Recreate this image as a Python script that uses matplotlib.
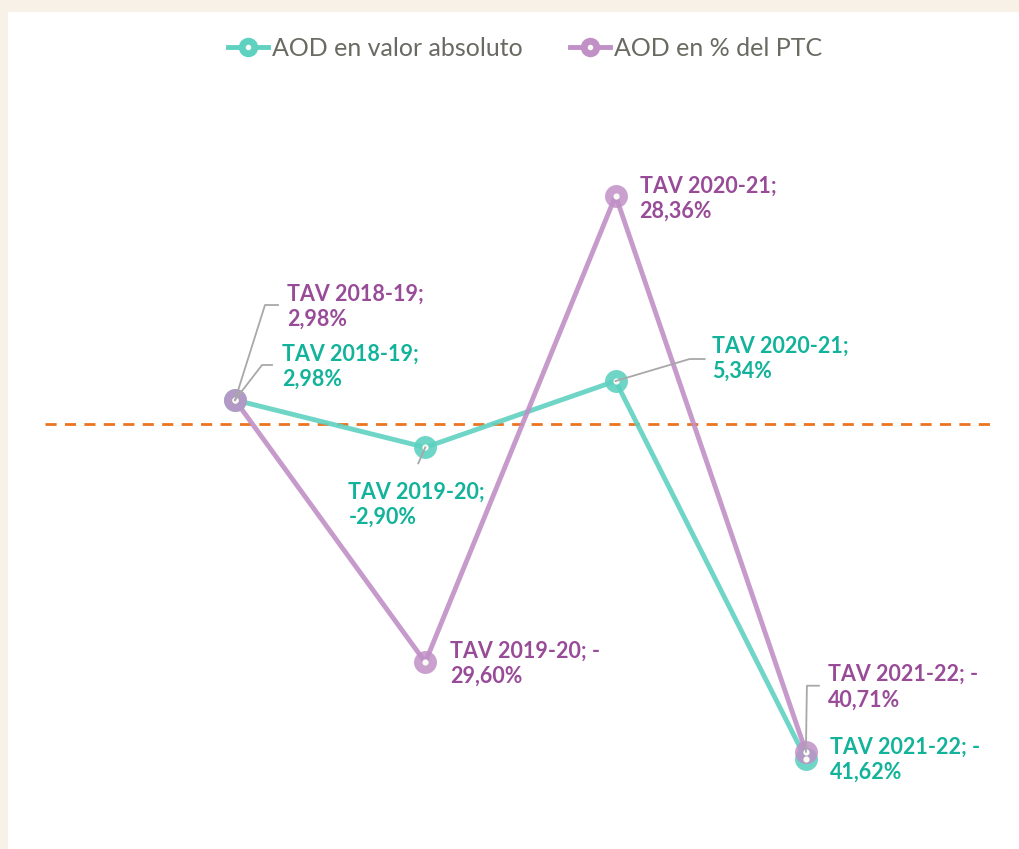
import matplotlib
matplotlib.use("Agg")
import matplotlib.pyplot as plt
from matplotlib.lines import Line2D
from matplotlib.transforms import IdentityTransform

# data
years = ["2018-19", "2019-20", "2020-21", "2021-22"]
aod_abs = [2.98, -2.90, 5.34, -41.62]
aod_ptc = [2.98, -29.60, 28.36, -40.71]
lab_abs = ["TAV 2018-19;\n2,98%", "TAV 2019-20;\n-2,90%", "TAV 2020-21;\n5,34%", "TAV 2021-22; -\n41,62%"]
lab_ptc = ["TAV 2018-19;\n2,98%", "TAV 2019-20; -\n29,60%", "TAV 2020-21;\n28,36%", "TAV 2021-22; -\n40,71%"]

teal = "#5fd1c1"
purple = "#c090c6"
teal_txt = "#12b39a"
purple_txt = "#984c98"
grey = "#a8a8a8"

plt.rcParams['font.family'] = ['Lato', 'DejaVu Sans']

fig = plt.figure(figsize=(10.2, 8.49), dpi=100)
fig.patch.set_facecolor("#f8f1e7")
ax = fig.add_axes([8 / 1020, 0, 1 - 8 / 1020, 1 - 12 / 849])
ax.set_facecolor("white")
for s in ax.spines.values():
    s.set_visible(False)
ax.set_xticks([])
ax.set_yticks([])

x = list(range(len(years)))
# axes spans pixels 8..1020 horizontally, 12..849 vertically
ax.set_xlim(-(235 - 8) / 190.3, (1020 - 235) / 190.3)
ax.set_ylim(-(849 - 424) / 8.05, (424 - 12) / 8.05)

ax.plot([-1.0, 3.97], [0, 0], color="#ea7420", lw=2, ls=(0, (4, 3)), zorder=1)

ax.plot(x, aod_abs, color=teal, lw=3.5, alpha=0.9, zorder=2)
ax.plot(x, aod_ptc, color=purple, lw=3.5, alpha=0.9, zorder=2)
ax.plot(x, aod_abs, ls="none", marker="o", ms=16.5, mfc=teal, mec="none", alpha=0.9, zorder=3)
ax.plot(x, aod_ptc, ls="none", marker="o", ms=16.5, mfc=purple, mec="none", alpha=0.85, zorder=4)
ax.plot(x, aod_abs, ls="none", marker="o", ms=4.5, mfc="#fbfbf5", mec="none", zorder=5)
ax.plot(x, aod_ptc, ls="none", marker="o", ms=4.5, mfc="#fbfbf5", mec="none", zorder=5)

# label offsets in pixels (dx, dy up) and leader lines
off_abs = [(47, 33.5), (-77, -57), (96, 22.5), (24, -1)]
off_ptc = [(52, 93.5), (25, -1.5), (24, -3), (22, 64.5)]
lead_abs = [[(27, 35), (37, 35)], [(-7, -16)], [(74, 22), (89, 22)], None]
lead_ptc = [[(30, 95), (43, 95)], None, None, [(1, 66), (13, 66)]]

fig.canvas.draw()


def label(i, vals, texts, offs, leads, col):
    px, py = ax.transData.transform((x[i], vals[i]))
    dx, dy = offs[i]
    ax.text(px + dx, py + dy, texts[i], transform=IdentityTransform(), color=col,
            fontsize=15.5, fontweight="bold", ha="left", va="center", linespacing=1.25, zorder=6)
    if leads[i]:
        xs = [px] + [px + a for a, b in leads[i]]
        ys = [py] + [py + b for a, b in leads[i]]
        ax.add_line(Line2D(xs, ys, transform=IdentityTransform(), color=grey, lw=1.3, zorder=5.5))


for i in x:
    label(i, aod_abs, lab_abs, off_abs, lead_abs, teal_txt)
    label(i, aod_ptc, lab_ptc, off_ptc, lead_ptc, purple_txt)

dot = Line2D([], [], ls="none", marker="o", ms=4, mfc="#fbfbf5", mec="none")
h1 = (Line2D([], [], color=teal, lw=3.5, marker="o", ms=14, mfc=teal, mec="none"), dot)
h2 = (Line2D([], [], color=purple, lw=3.5, marker="o", ms=14, mfc=purple, mec="none"), dot)
leg = fig.legend([h1, h2], ["AOD en valor absoluto", "AOD en % del PTC"], loc="center",
                 bbox_to_anchor=(0.515, 1 - 48 / 849), ncol=2, frameon=False, fontsize=18,
                 handlelength=1.6, handletextpad=0.15, columnspacing=1.9)
for t in leg.get_texts():
    t.set_color("#6a6a62")

fig.savefig("out.png", dpi=100, facecolor=fig.get_facecolor())
